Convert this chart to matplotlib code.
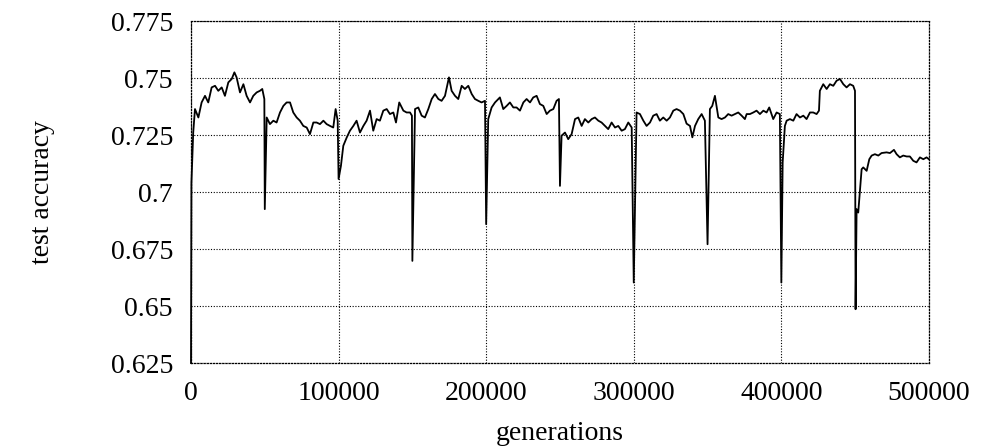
import numpy as np
import matplotlib.pyplot as plt

# test accuracy over the run, sampled along the curve
gens = [0, 300, 1500, 2700, 5000, 7200, 9500, 11700, 14000, 16300, 18500, 20800,
        23000, 25300, 27600, 29400, 30900, 33200, 35500, 37700, 40000, 42200,
        44500, 46700, 48300, 49700, 50000, 51300, 53500, 55800, 58000, 60300,
        62600, 64800, 67100, 69300, 71600, 73800, 76100, 78400, 80600, 82900,
        85100, 87400, 89700, 91900, 94200, 96400, 98000, 99400, 100000, 101600,
        103200, 105500, 107700, 110000, 112200, 114500, 116800, 119000, 121300,
        123500, 125800, 128000, 130300, 132600, 134800, 137100, 138900, 141100,
        143900, 146100, 148400, 149700, 150000, 151800, 154000, 156300, 158500,
        160800, 163100, 165300, 167600, 169800, 172100, 174800, 176600, 178900,
        181100, 183400, 185600, 187900, 190200, 192400, 194700, 196900, 199200,
        200000, 201400, 203700, 206000, 209300, 211600, 213900, 216100, 218400,
        220600, 222900, 225200, 227400, 229700, 231900, 234200, 236400, 238700,
        241000, 243200, 245500, 247700, 249300, 250000, 251100, 253400, 255600,
        257900, 260200, 262400, 264700, 266900, 269200, 271500, 273700, 276000,
        278200, 280500, 282700, 285000, 287300, 289500, 291800, 294000, 296300,
        298600, 300000, 301900, 304200, 306500, 308700, 311000, 313200, 315500,
        317700, 320000, 322300, 324500, 326800, 329000, 331300, 333600, 335800,
        338100, 339700, 341500, 343700, 346000, 348200, 350000, 351600, 353200,
        355000, 357300, 359500, 361800, 364000, 366300, 368600, 370800, 373100,
        375300, 376500, 378700, 381000, 383200, 385500, 387800, 390000, 391800,
        394500, 396800, 399000, 400000, 400900, 402400, 403600, 405800, 408100,
        410300, 412600, 414900, 417100, 419400, 421600, 423900, 425500, 426100,
        428400, 430700, 432900, 435200, 437400, 439700, 442000, 444200, 446500,
        448700, 449900, 450300, 451000, 452100, 453200, 454400, 455500, 457800,
        459600, 461200, 463400, 465700, 467900, 471300, 473600, 476300, 478100,
        480300, 482600, 484900, 487100, 489400, 491600, 493900, 496200, 498400,
        500000]

acc = [0.625, 0.704, 0.726, 0.7364, 0.7327, 0.7393, 0.7422, 0.7393, 0.7459, 0.7466,
       0.7444, 0.7459, 0.7422, 0.7481, 0.7496, 0.7525, 0.7503, 0.7437, 0.7473,
       0.7422, 0.7393, 0.7422, 0.7437, 0.7444, 0.7452, 0.7408, 0.6925, 0.7327,
       0.7298, 0.7313, 0.7305, 0.7349, 0.7378, 0.7393, 0.7393, 0.7349, 0.7327,
       0.7313, 0.7290, 0.7283, 0.7254, 0.7305, 0.7305, 0.7298, 0.7313, 0.7298,
       0.7290, 0.7283, 0.7364, 0.7313, 0.7057, 0.7115, 0.7203, 0.7239, 0.7269,
       0.7290, 0.7313, 0.7261, 0.7290, 0.7313, 0.7357, 0.7269, 0.7320, 0.7313,
       0.7357, 0.7364, 0.7342, 0.7349, 0.7305, 0.7393, 0.7357, 0.7349, 0.7349,
       0.7335, 0.6698, 0.7364, 0.7371, 0.7335, 0.7327, 0.7364, 0.7408, 0.7430,
       0.7408, 0.7400, 0.7422, 0.7503, 0.7444, 0.7422, 0.7408, 0.7466, 0.7452,
       0.7466, 0.7430, 0.7408, 0.7400, 0.7393, 0.7400, 0.6859, 0.7320, 0.7371,
       0.7393, 0.7415, 0.7364, 0.7378, 0.7393, 0.7371, 0.7371, 0.7357, 0.7393,
       0.7408, 0.7393, 0.7415, 0.7422, 0.7386, 0.7378, 0.7342, 0.7357, 0.7364,
       0.7400, 0.7408, 0.7027, 0.7247, 0.7261, 0.7232, 0.7254, 0.7320, 0.7327,
       0.7290, 0.7320, 0.7305, 0.7320, 0.7327, 0.7313, 0.7305, 0.7290, 0.7276,
       0.7305, 0.7283, 0.7290, 0.7269, 0.7276, 0.7305, 0.7283, 0.6603, 0.7349,
       0.7342, 0.7313, 0.7290, 0.7305, 0.7335, 0.7342, 0.7313, 0.7327, 0.7313,
       0.7327, 0.7357, 0.7364, 0.7357, 0.7342, 0.7300, 0.7290, 0.7240, 0.7290,
       0.7320, 0.7342, 0.7313, 0.6771, 0.7364, 0.7378, 0.7422, 0.7327, 0.7320,
       0.7327, 0.7342, 0.7335, 0.7342, 0.7349, 0.7335, 0.7320, 0.7342, 0.7342,
       0.7349, 0.7357, 0.7342, 0.7357, 0.7349, 0.7371, 0.7320, 0.7349, 0.7342,
       0.6603, 0.7130, 0.7290, 0.7313, 0.7320, 0.7313, 0.7342, 0.7327, 0.7335,
       0.7320, 0.7349, 0.7349, 0.7342, 0.7357, 0.7444, 0.7473, 0.7452, 0.7473,
       0.7466, 0.7488, 0.7496, 0.7473, 0.7459, 0.7473, 0.7466, 0.7444, 0.6486,
       0.6925, 0.6910, 0.6998, 0.7100, 0.7108, 0.7093, 0.7144, 0.7160, 0.7166,
       0.7160, 0.7171, 0.7174, 0.7171, 0.7185, 0.7166, 0.7152, 0.7160, 0.7156,
       0.7156, 0.7137, 0.7130, 0.7152, 0.7144, 0.7152, 0.7144]

xticks = [0, 100000, 200000, 300000, 400000, 500000]
yticks = [0.625, 0.65, 0.675, 0.7, 0.725, 0.75, 0.775]
ytick_labels = ['0.625', '0.65', '0.675', '0.7', '0.725', '0.75', '0.775']

plt.rcParams['font.family'] = ['Liberation Serif', 'DejaVu Serif']
plt.rcParams['font.size'] = 20

fig = plt.figure(figsize=(10.01, 4.48), dpi=100)
ax = fig.add_axes([0.1908, 0.1897, 0.928 - 0.1908, 0.953 - 0.1897])

ax.plot(gens, acc, color='black', lw=1.3, clip_on=False, zorder=3)

ax.set_xlim(0, 500000)
ax.set_ylim(0.625, 0.775)
ax.set_xticks(xticks)
ax.set_xticklabels([str(t) for t in xticks])
ax.set_yticks(yticks)
ax.set_yticklabels(ytick_labels)
ax.tick_params(length=0, pad=13)

dots = (0, (1, 1.5))
ax.grid(True, color='black', linestyle=dots, lw=0.8)
for s in ax.spines.values():
    s.set_linestyle(dots)
    s.set_linewidth(0.9)

ax.set_xlabel('generations', labelpad=11)
ax.set_ylabel('test accuracy', labelpad=40)

fig.savefig('out.png', dpi=100)
